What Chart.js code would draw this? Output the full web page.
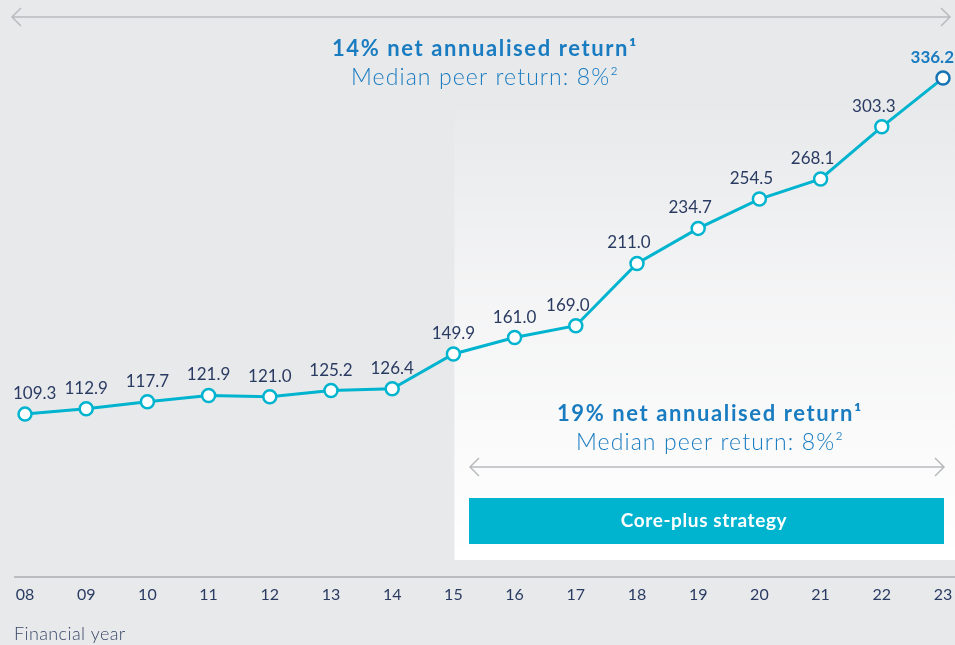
<!DOCTYPE html>
<html>
<head>
<meta charset="utf-8">
<script src="https://cdn.jsdelivr.net/npm/chart.js@4.4.1/dist/chart.umd.min.js"></script>
<style>
  html, body { margin: 0; padding: 0; background: #e8e9eb; }
  #wrap { width: 955px; height: 645px; position: relative; }
</style>
</head>
<body>
<div id="wrap"><canvas id="chart" width="955" height="645"></canvas></div>
<script>
const years = ["08", "09", "10", "11", "12", "13", "14", "15", "16", "17", "18", "19", "20", "21", "22", "23"];
const values = [109.3, 112.9, 117.7, 121.9, 121.0, 125.2, 126.4, 149.9, 161.0, 169.0, 211.0, 234.7, 254.5, 268.1, 303.3, 336.2];
const yMin = 0;
const yMax = 370;

const TEAL = "#00b4cf";
const BLUE = "#1a7cc0";
const NAVY = "#2a3b62";
const GREY = "#b9bbbe";
const FONT = "Lato, 'Open Sans', sans-serif";

const lastIdx = values.length - 1;

function arrow(ctx, x1, x2, y) {
  ctx.save();
  ctx.strokeStyle = GREY;
  ctx.lineWidth = 1.5;
  ctx.beginPath();
  ctx.moveTo(x1, y); ctx.lineTo(x2, y);
  ctx.moveTo(x1 + 9, y - 9); ctx.lineTo(x1, y); ctx.lineTo(x1 + 9, y + 9);
  ctx.moveTo(x2 - 9, y - 9); ctx.lineTo(x2, y); ctx.lineTo(x2 - 9, y + 9);
  ctx.stroke();
  ctx.restore();
}

function heading(ctx, x, y, bold, light) {
  ctx.save();
  ctx.textAlign = "center";
  ctx.textBaseline = "middle";
  ctx.fillStyle = BLUE;
  ctx.letterSpacing = "1.6px";
  ctx.font = "bold 22px " + FONT;
  ctx.fillText(bold, x, y);
  ctx.letterSpacing = "1.1px";
  ctx.font = "300 23px " + FONT;
  ctx.fillText(light, x, y + 29);
  ctx.restore();
}

// background panel, arrows and headings behind the line
const backdrop = {
  id: "backdrop",
  beforeDraw(chart) {
    const ctx = chart.ctx;
    const x = chart.scales.x;
    ctx.save();
    ctx.fillStyle = "#e8e9eb";
    ctx.fillRect(0, 0, chart.width, chart.height);

    // core-plus panel starts at the 15 point
    const px = x.getPixelForValue(7) + 1;
    const g = ctx.createLinearGradient(0, 100, 0, 560);
    g.addColorStop(0, "rgba(255,255,255,0)");
    g.addColorStop(0.45, "rgba(255,255,255,0.55)");
    g.addColorStop(1, "rgba(255,255,255,1)");
    ctx.fillStyle = g;
    ctx.fillRect(px, 100, chart.width - px, 460);

    arrow(ctx, 12, 950, 17);
    heading(ctx, 485, 49, "14% net annualised return\u00b9", "Median peer return: 8%\u00b2");

    heading(ctx, 710, 414, "19% net annualised return\u00b9", "Median peer return: 8%\u00b2");
    arrow(ctx, 470, 944, 467);

    ctx.fillStyle = "#00b4d0";
    ctx.fillRect(469, 498, 475, 46);
    ctx.fillStyle = "#ffffff";
    ctx.font = "bold 19px " + FONT;
    ctx.letterSpacing = "0.6px";
    ctx.textAlign = "center";
    ctx.textBaseline = "middle";
    ctx.fillText("Core-plus strategy", 704, 521);
    ctx.letterSpacing = "0px";

    // baseline
    ctx.strokeStyle = GREY;
    ctx.lineWidth = 2;
    ctx.beginPath();
    ctx.moveTo(14, 577); ctx.lineTo(955, 577);
    ctx.stroke();

    ctx.fillStyle = "#3a4868";
    ctx.font = "300 18px " + FONT;
    ctx.letterSpacing = "0.4px";
    ctx.textAlign = "left";
    ctx.fillText("Financial year", 14, 634);
    ctx.restore();
  }
};

const valueLabels = {
  id: "valueLabels",
  afterDatasetsDraw(chart) {
    const ctx = chart.ctx;
    const pts = chart.getDatasetMeta(0).data;
    ctx.save();
    ctx.textAlign = "center";
    ctx.textBaseline = "bottom";
    pts.forEach((p, i) => {
      const last = i === lastIdx;
      ctx.fillStyle = last ? BLUE : NAVY;
      ctx.font = (last ? "bold " : "") + "17px " + FONT;
      const txt = values[i].toFixed(1);
      const w = ctx.measureText(txt).width;
      // nudge labels left of the climbing segment, keep inside the canvas
      let cx = p.x - (i >= 9 ? 8 : 0);
      cx = Math.max(w / 2 + 13, Math.min(chart.width - w / 2 - 1, cx));
      ctx.fillText(txt, cx, p.y - 12);
    });
    ctx.restore();
  }
};

new Chart(document.getElementById("chart"), {
  type: "line",
  data: {
    labels: years,
    datasets: [{
      data: values,
      borderColor: TEAL,
      borderWidth: 3,
      pointRadius: 6.5,
      pointHoverRadius: 6.5,
      pointBorderWidth: 2.5,
      pointBackgroundColor: "#ffffff",
      pointBorderColor: values.map((v, i) => i === lastIdx ? "#1673b4" : TEAL),
      tension: 0
    }]
  },
  options: {
    responsive: false,
    animation: false,
    layout: { padding: { left: 25, right: 12, top: 28, bottom: 24 } },
    plugins: { legend: { display: false }, tooltip: { enabled: false } },
    scales: {
      x: {
        offset: false,
        grid: { display: false, drawTicks: false },
        border: { display: false },
        ticks: { color: NAVY, font: { family: FONT, size: 16 }, padding: 9, maxRotation: 0, autoSkip: false },
        afterFit(scale) {
          scale.height = 45;
          scale.paddingLeft = 0;
          scale.paddingRight = 0;
        }
      },
      y: { display: false, min: yMin, max: yMax }
    }
  },
  plugins: [backdrop, valueLabels]
});
</script>
</body>
</html>
